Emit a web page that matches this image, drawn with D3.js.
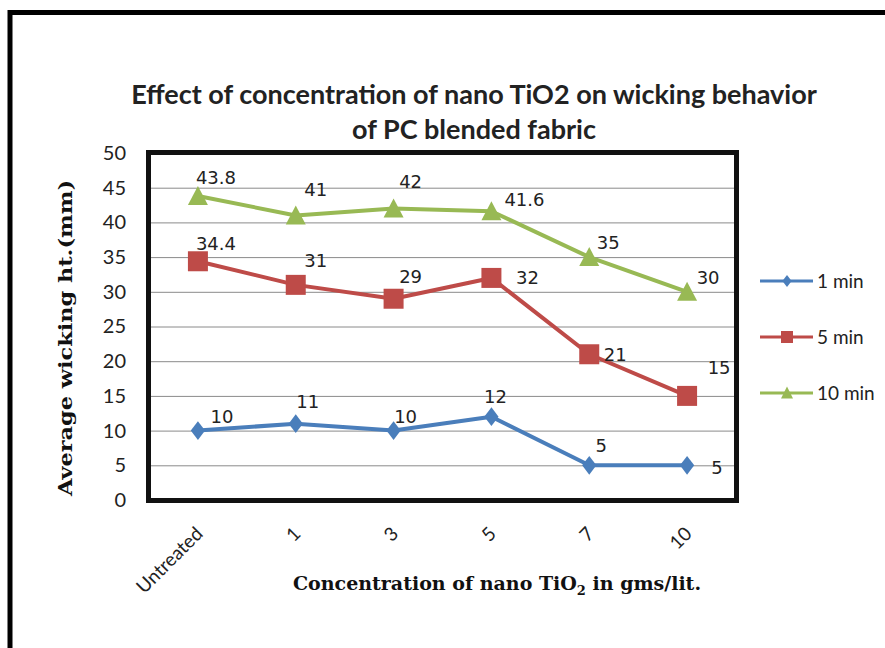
<!DOCTYPE html>
<html>
<head>
<meta charset="utf-8">
<script src="https://cdn.jsdelivr.net/npm/d3@7"></script>
<style>
  body { margin: 0; background: #fff; }
  svg { display: block; }
</style>
</head>
<body>
<svg id="chart"></svg>
<script>
const categories = ["Untreated", "1", "3", "5", "7", "10"];
const oneMin = [10, 11, 10, 12, 5, 5];
const fiveMin = [34.4, 31, 29, 32, 21, 15];
const tenMin = [43.8, 41, 42, 41.6, 35, 30];
const seriesNames = ["1 min", "5 min", "10 min"];
const yTicks = [0, 5, 10, 15, 20, 25, 30, 35, 40, 45, 50];

const width = 885;
const height = 648;
const plot = { left: 149, right: 736, top: 153, bottom: 500 };

// label offsets (dx, dy) relative to each point, by series
const labelOffsets = [
  [[24, -14], [12, -22], [12, -14], [4, -20], [12, -20], [30, 2]],
  [[18, -18], [20, -24], [17, -22], [36, 0], [26, 0], [32, -28]],
  [[18, -18], [20, -26], [17, -27], [33, -12], [19, -14], [21, -14]],
];

const colors = ["#4a7ebb", "#be4b48", "#98b954"];

const series = [oneMin, fiveMin, tenMin].map((vals, i) => ({
  name: seriesNames[i],
  color: colors[i],
  offsets: labelOffsets[i],
  values: vals.map((v, j) => ({ cat: categories[j], value: v })),
}));

const svg = d3.select("#chart").attr("width", width).attr("height", height);

// outer frame
svg.append("path")
  .attr("d", "M10,648 L10,12.5 L885,12.5")
  .attr("fill", "none")
  .attr("stroke", "#000")
  .attr("stroke-width", 5);

const xScale = d3.scalePoint()
  .domain(categories)
  .range([plot.left, plot.right])
  .padding(0.5);

const yScale = d3.scaleLinear()
  .domain([0, 50])
  .range([plot.bottom, plot.top]);

// gridlines
svg.append("g")
  .attr("transform", "translate(" + plot.left + ",0)")
  .call(d3.axisLeft(yScale).tickValues(yTicks).tickSize(-(plot.right - plot.left)).tickFormat(""))
  .call((g) => g.select(".domain").remove())
  .call((g) => g.selectAll("line").attr("stroke", "#8a8a8a").attr("stroke-width", 1));

// y axis labels
svg.append("g")
  .attr("transform", "translate(" + plot.left + ",0)")
  .call(d3.axisLeft(yScale).tickValues(yTicks).tickSize(0).tickPadding(23))
  .call((g) => g.select(".domain").remove())
  .call((g) => g.selectAll("text")
    .attr("font-family", "Lato, 'Open Sans', sans-serif")
    .attr("font-size", 20)
    .attr("fill", "#222"));

// x axis labels
svg.append("g")
  .selectAll("text")
  .data(categories)
  .enter()
  .append("text")
  .attr("transform", (d) => "translate(" + (xScale(d) + 6) + "," + (plot.bottom + 35) + ") rotate(-45)")
  .attr("text-anchor", "end")
  .attr("font-family", "Lato, 'Open Sans', sans-serif")
  .attr("font-size", 19)
  .attr("fill", "#222")
  .text((d) => d);

// lines
const line = d3.line()
  .x((d) => xScale(d.cat))
  .y((d) => yScale(d.value));

svg.append("g")
  .selectAll("path")
  .data(series)
  .enter()
  .append("path")
  .attr("d", (s) => line(s.values))
  .attr("fill", "none")
  .attr("stroke", (s) => s.color)
  .attr("stroke-width", 4)
  .attr("stroke-linejoin", "round");

const markerPath = (i, size) => {
  if (i === 0) {
    const w = size * 0.42, h = size * 0.55;
    return "M0," + (-h) + " L" + w + ",0 L0," + h + " L" + (-w) + ",0 Z";
  }
  if (i === 1) {
    const s = size / 2;
    return "M" + (-s) + "," + (-s) + " H" + s + " V" + s + " H" + (-s) + " Z";
  }
  const w = size / 2, h = size * 0.9;
  return "M0," + (-h / 2 - 1) + " L" + w + "," + (h / 2) + " L" + (-w) + "," + (h / 2) + " Z";
};

series.forEach((s, i) => {
  const g = svg.append("g");
  g.selectAll("path")
    .data(s.values)
    .enter()
    .append("path")
    .attr("transform", (d) => "translate(" + xScale(d.cat) + "," + yScale(d.value) + ")")
    .attr("d", markerPath(i, i === 0 ? 17 : 20))
    .attr("fill", s.color);

  g.selectAll("text")
    .data(s.values)
    .enter()
    .append("text")
    .attr("x", (d, j) => xScale(d.cat) + s.offsets[j][0])
    .attr("y", (d, j) => yScale(d.value) + s.offsets[j][1])
    .attr("dy", "0.35em")
    .attr("text-anchor", "middle")
    .attr("font-family", "'DejaVu Sans', sans-serif")
    .attr("font-size", 18)
    .attr("fill", "#222")
    .text((d) => d.value);
});

// plot border
svg.append("rect")
  .attr("x", plot.left - 0.5)
  .attr("y", plot.top - 0.5)
  .attr("width", plot.right - plot.left + 1)
  .attr("height", plot.bottom - plot.top + 1)
  .attr("fill", "none")
  .attr("stroke", "#111")
  .attr("stroke-width", 5);

// title
const title = svg.append("text")
  .attr("text-anchor", "middle")
  .attr("font-family", "Lato, 'Open Sans', sans-serif")
  .attr("font-size", 27)
  .attr("font-weight", "bold")
  .attr("fill", "#222");
title.append("tspan").attr("x", 474).attr("y", 104)
  .text("Effect of concentration of nano TiO2 on wicking behavior");
title.append("tspan").attr("x", 474).attr("y", 139)
  .text("of PC blended fabric");

// y axis title
svg.append("text")
  .attr("transform", "translate(72,338) rotate(-90)")
  .attr("text-anchor", "middle")
  .attr("font-family", "'DejaVu Serif', serif")
  .attr("font-weight", "bold")
  .attr("font-size", 19)
  .attr("textLength", 316)
  .attr("lengthAdjust", "spacingAndGlyphs")
  .attr("fill", "#111")
  .text("Average wicking  ht.(mm)");

// x axis title
const xTitle = svg.append("text")
  .attr("x", 497)
  .attr("y", 590)
  .attr("text-anchor", "middle")
  .attr("font-family", "'DejaVu Serif', serif")
  .attr("font-weight", "bold")
  .attr("font-size", 19)
  .attr("fill", "#111");
xTitle.append("tspan").text("Concentration of nano TiO");
xTitle.append("tspan").attr("font-size", 13).attr("dy", 5).text("2");
xTitle.append("tspan").attr("dy", -5).text(" in gms/lit.");

// legend
const legend = svg.append("g")
  .selectAll("g")
  .data(series)
  .enter()
  .append("g")
  .attr("transform", (d, i) => "translate(760," + (281 + i * 56) + ")");

legend.append("line")
  .attr("x1", 0).attr("x2", 53)
  .attr("stroke", (d) => d.color)
  .attr("stroke-width", 3);

legend.append("path")
  .attr("transform", "translate(27,0)")
  .attr("d", (d, i) => markerPath(i, i === 0 ? 11 : 12))
  .attr("fill", (d) => d.color);

legend.append("text")
  .attr("x", 57)
  .attr("dy", "0.35em")
  .attr("font-family", "Lato, 'Open Sans', sans-serif")
  .attr("font-size", 19)
  .attr("fill", "#222")
  .text((d) => d.name);
</script>
</body>
</html>
